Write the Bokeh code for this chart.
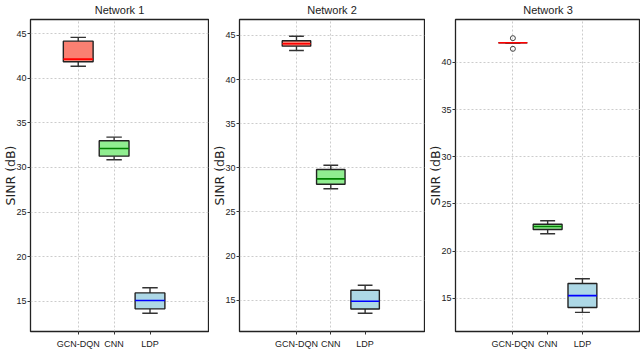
from bokeh.plotting import figure
from bokeh.layouts import row
from bokeh.models import FixedTicker, Range1d, ColumnDataSource
from bokeh.embed import file_html
from bokeh.resources import INLINE

categories = ["GCN-DQN", "CNN", "LDP"]
titles = ["Network 1", "Network 2", "Network 3"]
yticks = [15, 20, 25, 30, 35, 40, 45]

# Network 1 box statistics (GCN-DQN, CNN, LDP)
n1_low = [41.35, 30.86, 13.64]
n1_q1 = [41.86, 31.27, 14.14]
n1_med = [42.15, 32.13, 15.07]
n1_q3 = [44.17, 33.00, 15.93]
n1_high = [44.60, 33.40, 16.50]

# Network 2
n2_low = [43.30, 27.62, 13.52]
n2_q1 = [43.79, 28.14, 14.00]
n2_med = [44.06, 28.75, 14.88]
n2_q3 = [44.40, 29.81, 16.12]
n2_high = [44.92, 30.30, 16.69]

# Network 3
n3_low = [42.09, 21.83, 13.50]
n3_q1 = [42.09, 22.29, 14.02]
n3_med = [42.09, 22.61, 15.28]
n3_q3 = [42.09, 22.85, 16.56]
n3_high = [42.09, 23.21, 17.06]
n3_flier_cat = [0, 0]
n3_flier_val = [42.58, 41.45]

fills = ["salmon", "lightgreen", "lightblue"]
medians = ["red", "green", "blue"]

FONT = "Liberation Sans"

panels = [
    dict(stats=(n1_low, n1_q1, n1_med, n1_q3, n1_high), fl=([], []),
         width=209, rb=1, xr=(-0.33, 4.63), yr=(46.6, 11.6), xgrid=[1, 2]),
    dict(stats=(n2_low, n2_q1, n2_med, n2_q3, n2_high), fl=([], []),
         width=216, rb=1, xr=(-0.66, 4.73), yr=(46.81, 11.45), xgrid=[1, 2]),
    dict(stats=(n3_low, n3_q1, n3_med, n3_q3, n3_high), fl=(n3_flier_cat, n3_flier_val),
         width=215, rb=0, xr=(-0.65, 4.67), yr=(44.56, 11.47), xgrid=[1, 3]),
]

figs = []
for i, pan in enumerate(panels):
    low, q1, med, q3, high = pan["stats"]
    xs = [k + 1 for k in range(len(categories))]
    bw = 0.83
    cw = 0.43
    src = ColumnDataSource(dict(
        x=xs,
        left=[x - bw / 2 for x in xs], right=[x + bw / 2 for x in xs],
        cl=[x - cw / 2 for x in xs], cr=[x + cw / 2 for x in xs],
        low=low, q1=q1, med=med, q3=q3, high=high,
        fill=fills, mc=medians,
    ))
    p = figure(width=pan["width"], height=352, output_backend="svg", toolbar_location=None,
               x_range=Range1d(*pan["xr"]), y_range=Range1d(pan["yr"][1], pan["yr"][0]),
               min_border_left=20, min_border_right=pan["rb"], min_border_top=19, min_border_bottom=21,
               title=titles[i])
    p.title.align = "center"
    p.title.vertical_align = "top"
    p.title.text_font = FONT
    p.title.text_font_size = "11px"
    p.title.text_font_style = "normal"
    p.title.text_color = "#222222"
    p.title.standoff = 3

    p.segment(x0="x", y0="q3", x1="x", y1="high", source=src, line_color="#333333", line_width=1.4)
    p.segment(x0="x", y0="q1", x1="x", y1="low", source=src, line_color="#333333", line_width=1.4)
    p.segment(x0="cl", y0="high", x1="cr", y1="high", source=src, line_color="#333333", line_width=1.4)
    p.segment(x0="cl", y0="low", x1="cr", y1="low", source=src, line_color="#333333", line_width=1.4)
    p.quad(left="left", right="right", bottom="q1", top="q3", source=src,
           fill_color="fill", line_color="#222222", line_width=1.4)
    p.segment(x0="left", y0="med", x1="right", y1="med", source=src, line_color="mc", line_width=1.6)
    fx, fy = pan["fl"]
    if fx:
        p.scatter(x=[xs[k] for k in fx], y=fy, marker="circle", size=5,
                  fill_color=None, line_color="#444444", line_width=1)

    p.xaxis.ticker = FixedTicker(ticks=xs)
    p.xaxis.major_label_overrides = {x: c for x, c in zip(xs, categories)}
    p.yaxis.ticker = FixedTicker(ticks=yticks)
    p.xgrid.ticker = FixedTicker(ticks=pan["xgrid"])
    p.ygrid.ticker = FixedTicker(ticks=yticks)
    for g in (p.xgrid, p.ygrid):
        g.grid_line_color = "#cccccc"
        g.grid_line_dash = "2 2"
        g.grid_line_width = 1
    for ax in (p.xaxis, p.yaxis):
        ax.axis_line_color = None
        ax.minor_tick_line_color = None
        ax.major_tick_in = 0
        ax.major_tick_out = 3
        ax.major_tick_line_color = "#333333"
        ax.major_label_text_font = FONT
        ax.major_label_text_color = "#222222"
    p.xaxis.major_label_standoff = 4
    p.yaxis.major_label_standoff = 1
    p.xaxis.major_label_text_font_size = "9px"
    p.yaxis.major_label_text_font_size = "9px"
    p.yaxis.axis_label = "SINR (dB)"
    p.yaxis.axis_label_text_font = "DejaVu Sans"
    p.yaxis.axis_label_text_font_size = "12.5px"
    p.yaxis.axis_label_text_font_style = "normal"
    p.yaxis.axis_label_text_color = "#222222"
    p.yaxis.axis_label_standoff = -5
    p.outline_line_color = "#222222"
    p.outline_line_width = 1.3
    p.background_fill_color = "white"
    p.border_fill_color = "white"
    figs.append(p)

layout = row(*figs, spacing=0)
open("out.html", "w").write(file_html(layout, INLINE))
